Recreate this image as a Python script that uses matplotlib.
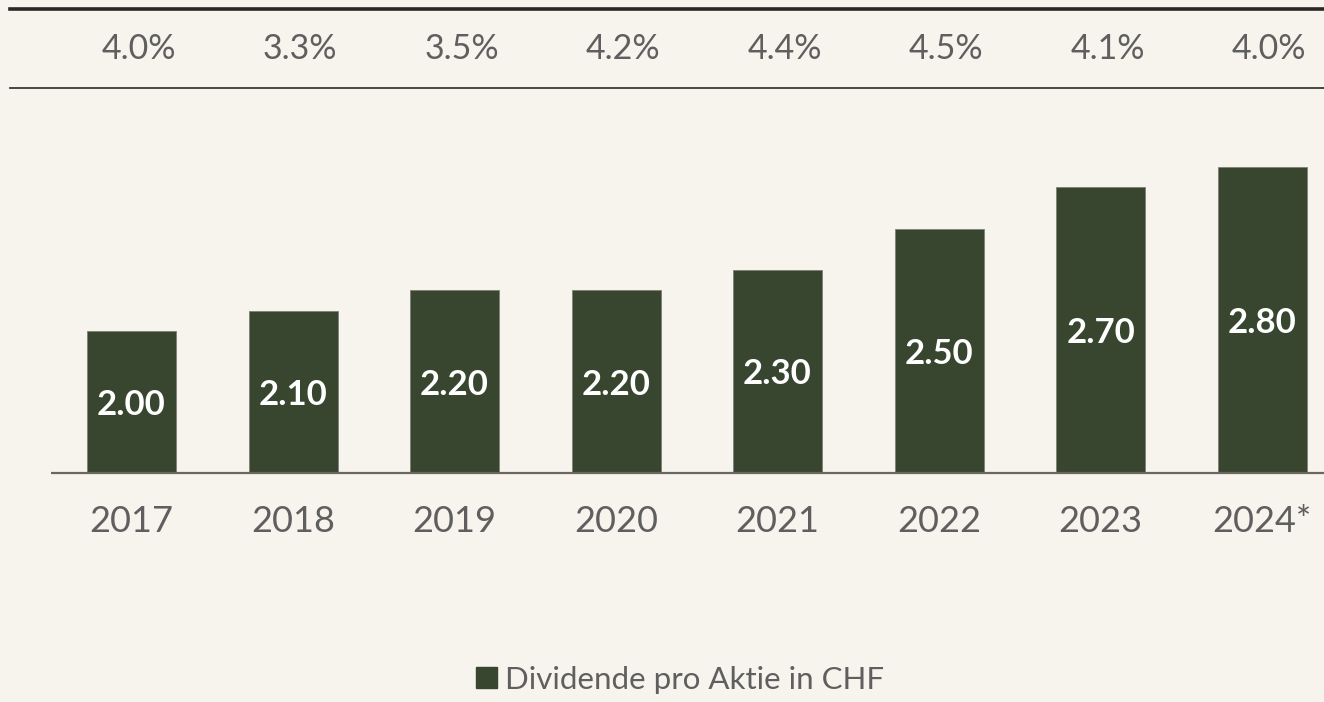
import matplotlib
matplotlib.use("Agg")
import matplotlib.pyplot as plt
from matplotlib.patches import Rectangle
from matplotlib.lines import Line2D

years = ["2017", "2018", "2019", "2020", "2021", "2022", "2023", "2024*"]
dividends = [2.00, 2.10, 2.20, 2.20, 2.30, 2.50, 2.70, 2.80]
yields = ["4.0%", "3.3%", "3.5%", "4.2%", "4.4%", "4.5%", "4.1%", "4.0%"]
legend_label = "Dividende pro Aktie in CHF"

BG = "#f7f4ee"
BAR = "#38462f"
GRAY = "#5f5f5f"
plt.rcParams["font.family"] = ["Lato", "DejaVu Sans"]

W, H = 1324, 702
fig = plt.figure(figsize=(W / 100, H / 100), dpi=100, facecolor=BG)

base_px = 473
ax = fig.add_axes([0, (H - base_px) / H, 1, base_px / H])
ax.set_facecolor(BG)
spacing = 161.5
c0 = 131.5
ax.set_xlim(-c0 / spacing, (W - c0) / spacing)
ppu = 205.0
ymin = 2.0 - 142 / ppu
ax.set_ylim(ymin, ymin + base_px / ppu)
for s in ax.spines.values():
    s.set_visible(False)
ax.set_xticks([])
ax.set_yticks([])

xs = list(range(len(years)))
ax.bar(xs, dividends, bottom=0, width=89 / spacing, color=BAR,
       edgecolor="#7d8074", linewidth=0.6, zorder=2)
for x, v in zip(xs, dividends):
    ax.text(x, (ymin + v) / 2 - 0.015, f"{v:.2f}", ha="center", va="center",
            color="white", fontsize=25, fontweight="bold", zorder=3)

ax.plot([(51 - c0) / spacing, (W - c0) / spacing], [ymin + 0.002, ymin + 0.002],
        color="#6b6660", lw=1.6, zorder=4, clip_on=False, solid_capstyle="butt")

fig.add_artist(Line2D([10 / W, 1], [1 - 8.5 / H, 1 - 8.5 / H], color="#2a2826",
                      lw=2.6, transform=fig.transFigure))
fig.add_artist(Line2D([10 / W, 1], [1 - 87.5 / H, 1 - 87.5 / H], color="#3a3836",
                      lw=1.3, transform=fig.transFigure))

for x, y_txt, yr in zip(xs, yields, years):
    px = c0 + x * spacing
    fig.text((px + 7) / W, 1 - 49 / H, y_txt, ha="center", va="center",
             color=GRAY, fontsize=24.5)
    fig.text(px / W, 1 - 521 / H, yr, ha="center", va="center",
             color=GRAY, fontsize=26)

fig.add_artist(Rectangle((476 / W, 1 - 688 / H), 21 / W, 21 / H, color=BAR,
                         transform=fig.transFigure))
fig.text(505 / W, 1 - 680 / H, legend_label, ha="left", va="center",
         color=GRAY, fontsize=22.5)

fig.savefig("out.png", dpi=100, facecolor=BG)
